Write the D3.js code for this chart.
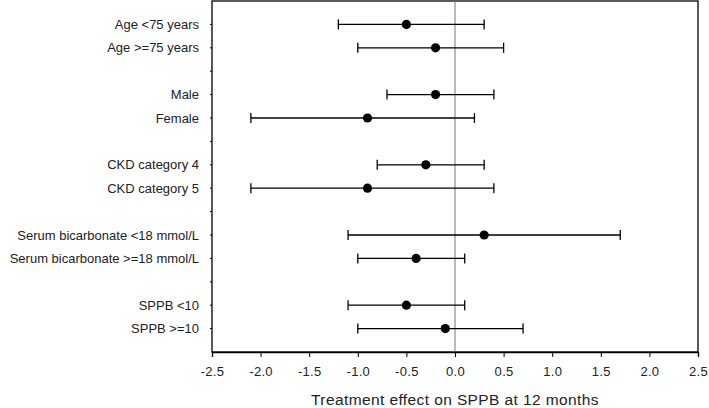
<!DOCTYPE html>
<html><head><meta charset="utf-8">
<script src="https://cdn.jsdelivr.net/npm/d3@7"></script>
<style>body{margin:0;background:#fff;} svg{display:block;}</style>
</head><body>
<script>
const labels = ["Age <75 years","Age >=75 years","","Male","Female","","CKD category 4","CKD category 5","","Serum bicarbonate <18 mmol/L","Serum bicarbonate >=18 mmol/L","","SPPB <10","SPPB >=10"];
const estimates = [-0.5,-0.2,null,-0.2,-0.9,null,-0.3,-0.9,null,0.3,-0.4,null,-0.5,-0.1];
const lower = [-1.2,-1.0,null,-0.7,-2.1,null,-0.8,-2.1,null,-1.1,-1.0,null,-1.1,-1.0];
const upper = [0.3,0.5,null,0.4,0.2,null,0.3,0.4,null,1.7,0.1,null,0.1,0.7];
const xTicks = [-2.5,-2.0,-1.5,-1.0,-0.5,0.0,0.5,1.0,1.5,2.0,2.5];
const xTitle = "Treatment effect on SPPB at 12 months";

const W=709,H=408;
const m={left:212,right:11,top:1,bottom:56};
const svg=d3.select("body").append("svg").attr("width",W).attr("height",H);
const pw=W-m.left-m.right, ph=H-m.top-m.bottom;
const x=d3.scaleLinear().domain([-2.5,2.5]).range([m.left,m.left+pw]);
const y=d3.scaleLinear().domain([0,labels.length+1]).range([m.top,m.top+ph]);
const font="Liberation Sans, Arial, sans-serif";

// frame
svg.append("rect").attr("x",m.left).attr("y",m.top).attr("width",pw).attr("height",ph)
  .attr("fill","none").attr("stroke","#000").attr("stroke-width",1.3);

// zero line
svg.append("line").attr("x1",x(0)).attr("x2",x(0)).attr("y1",m.top).attr("y2",m.top+ph)
  .attr("stroke","#777").attr("stroke-width",1);

// x axis
const fmt=d=>d3.format(".1f")(d).replace("\u2212","-");
const xa=svg.append("g").attr("transform",`translate(0,${m.top+ph})`)
  .call(d3.axisBottom(x).tickValues(xTicks).tickFormat(fmt).tickSize(5).tickPadding(10));
xa.select(".domain").attr("stroke","#000").attr("stroke-width",1.3);
xa.selectAll(".tick line").attr("stroke","#000").attr("stroke-width",1);
xa.selectAll("text").attr("font-family",font).attr("font-size",13).attr("fill","#222")
  .attr("letter-spacing",0.3);

// y labels
const idx=labels.map((l,i)=>i);
svg.append("g").selectAll("text").data(idx.filter(i=>labels[i]!=="")).join("text")
  .attr("x",m.left-13).attr("y",i=>y(i+1)).attr("dy","0.35em").attr("text-anchor","end")
  .attr("font-family",font).attr("font-size",13).attr("fill","#222").text(i=>labels[i]);

// small y ticks
svg.append("g").selectAll("line").data(idx).join("line")
  .attr("x1",m.left).attr("x2",m.left-2).attr("y1",i=>y(i+1)).attr("y2",i=>y(i+1))
  .attr("stroke","#000").attr("stroke-width",1);

// error bars
const rows=idx.filter(i=>estimates[i]!==null);
const g=svg.append("g").attr("stroke","#000").attr("stroke-width",1.3);
g.selectAll(".ci").data(rows).join("line").attr("x1",i=>x(lower[i])).attr("x2",i=>x(upper[i]))
  .attr("y1",i=>y(i+1)).attr("y2",i=>y(i+1));
g.selectAll(".capL").data(rows).join("line").attr("x1",i=>x(lower[i])).attr("x2",i=>x(lower[i]))
  .attr("y1",i=>y(i+1)-5).attr("y2",i=>y(i+1)+5);
g.selectAll(".capR").data(rows).join("line").attr("x1",i=>x(upper[i])).attr("x2",i=>x(upper[i]))
  .attr("y1",i=>y(i+1)-5).attr("y2",i=>y(i+1)+5);
svg.append("g").selectAll("circle").data(rows).join("circle")
  .attr("cx",i=>x(estimates[i])).attr("cy",i=>y(i+1)).attr("r",4.6).attr("fill","#000");

// title
svg.append("text").attr("x",x(0)).attr("y",405).attr("text-anchor","middle")
  .attr("font-family",font).attr("font-size",15.5).attr("letter-spacing",0.4).attr("fill","#222").text(xTitle);
</script>
</body></html>
